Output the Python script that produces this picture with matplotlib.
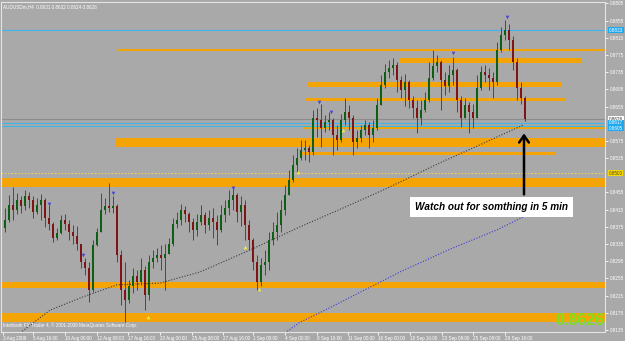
import matplotlib
matplotlib.use("Agg")
import matplotlib.pyplot as plt
import matplotlib.transforms as mtransforms
import numpy as np

# ---------------- data ----------------
first_open = 0.8373
closes = [0.8391, 0.8425, 0.8414, 0.8437, 0.8423, 0.8447, 0.8437, 0.8409, 0.8425, 0.8437,
          0.8395, 0.8381, 0.8349, 0.8361, 0.8391, 0.8381, 0.8363, 0.8354, 0.8335, 0.8293,
          0.8279, 0.8228, 0.8332, 0.8363, 0.8414, 0.8423, 0.8419, 0.8423, 0.8309, 0.8228,
          0.8205, 0.8237, 0.8261, 0.8247, 0.8275, 0.8216, 0.8293, 0.8303, 0.8309, 0.8303,
          0.8312, 0.8335, 0.8381, 0.8391, 0.8414, 0.8405, 0.8386, 0.8368, 0.8386,
          0.8402, 0.8379, 0.8395, 0.8386, 0.8368, 0.8402, 0.8419, 0.8437, 0.8449, 0.8409,
          0.8425, 0.8379, 0.8344, 0.8293, 0.8247, 0.8286, 0.8293, 0.8344, 0.8363, 0.8379,
          0.8414, 0.8449, 0.8484, 0.8519, 0.8535, 0.8554, 0.8558, 0.8549, 0.8628, 0.8624,
          0.8605, 0.8619, 0.8624, 0.8589, 0.8577, 0.8624, 0.8642, 0.8628, 0.8573, 0.8582,
          0.8600, 0.8612, 0.8589, 0.8605, 0.8659, 0.8705, 0.8736, 0.8745, 0.8752, 0.8717,
          0.8694, 0.8712, 0.8670, 0.8652, 0.8628, 0.8647, 0.8670, 0.8721, 0.8749, 0.8759,
          0.8717, 0.8703, 0.8729, 0.8740, 0.8670, 0.8628, 0.8659, 0.8642, 0.8628, 0.8698,
          0.8736, 0.8729, 0.8721, 0.8712, 0.8787, 0.8822, 0.8833, 0.8810, 0.8759, 0.8698,
          0.8675, 0.8626]
highs = [0.8419, 0.8449, 0.8468, 0.8454, 0.8447, 0.8461, 0.8456, 0.8447, 0.8442, 0.8451,
         0.8442, 0.8426, 0.8386, 0.8372, 0.8402, 0.8405, 0.8391, 0.8379, 0.8377, 0.8316,
         0.8303, 0.8293, 0.8344, 0.8372, 0.8454, 0.8442, 0.8477, 0.8447, 0.8428, 0.8321,
         0.8293, 0.8251, 0.8279, 0.8275, 0.8303, 0.8284, 0.8309, 0.8321, 0.8326, 0.8333,
         0.8335, 0.8349, 0.8395, 0.8409, 0.8428, 0.8423, 0.8409, 0.8395, 0.8405,
         0.8426, 0.8409, 0.8414, 0.8419, 0.8402, 0.8426, 0.8437, 0.8461, 0.8470, 0.8454,
         0.8447, 0.8437, 0.8391, 0.8349, 0.8309, 0.8303, 0.8321, 0.8363, 0.8386, 0.8409,
         0.8437, 0.8472, 0.8507, 0.8542, 0.8558, 0.8577, 0.8577, 0.8566, 0.8647, 0.8652,
         0.8661, 0.8635, 0.8642, 0.8628, 0.8612, 0.8638, 0.8675, 0.8659, 0.8635, 0.8600,
         0.8612, 0.8624, 0.8619, 0.8624, 0.8675, 0.8729, 0.8754, 0.8763, 0.8768, 0.8759,
         0.8726, 0.8731, 0.8717, 0.8680, 0.8670, 0.8670, 0.8689, 0.8759, 0.8787, 0.8775,
         0.8763, 0.8735, 0.8752, 0.8770, 0.8745, 0.8680, 0.8675, 0.8666, 0.8661, 0.8729,
         0.8749, 0.8752, 0.8745, 0.8735, 0.8805, 0.8840, 0.8856, 0.8847, 0.8819, 0.8768,
         0.8712, 0.8680]
lows = [0.8363, 0.8386, 0.8391, 0.8405, 0.8407, 0.8414, 0.8419, 0.8395, 0.8405, 0.8391,
        0.8374, 0.8368, 0.8340, 0.8344, 0.8358, 0.8368, 0.8344, 0.8335, 0.8321, 0.8279,
        0.8263, 0.8200, 0.8223, 0.8330, 0.8363, 0.8405, 0.8409, 0.8407, 0.8293, 0.8193,
        0.8154, 0.8198, 0.8221, 0.8228, 0.8240, 0.8182, 0.8205, 0.8279, 0.8293, 0.8275,
        0.8228, 0.8316, 0.8330, 0.8372, 0.8379, 0.8386, 0.8363, 0.8344, 0.8354,
        0.8379, 0.8361, 0.8368, 0.8349, 0.8333, 0.8363, 0.8386, 0.8402, 0.8414, 0.8386,
        0.8377, 0.8344, 0.8321, 0.8275, 0.8228, 0.8237, 0.8263, 0.8275, 0.8333, 0.8344,
        0.8363, 0.8402, 0.8449, 0.8479, 0.8503, 0.8531, 0.8531, 0.8526, 0.8542, 0.8584,
        0.8561, 0.8596, 0.8600, 0.8542, 0.8554, 0.8573, 0.8612, 0.8600, 0.8542, 0.8558,
        0.8573, 0.8589, 0.8558, 0.8573, 0.8600, 0.8659, 0.8698, 0.8721, 0.8729, 0.8689,
        0.8675, 0.8656, 0.8652, 0.8628, 0.8593, 0.8612, 0.8642, 0.8666, 0.8717, 0.8735,
        0.8647, 0.8682, 0.8689, 0.8705, 0.8642, 0.8607, 0.8628, 0.8593, 0.8605, 0.8628,
        0.8694, 0.8712, 0.8694, 0.8675, 0.8705, 0.8782, 0.8810, 0.8787, 0.8740, 0.8670,
        0.8661, 0.8621]

# moving averages: bar position, price
ma_slow_x = [3.75, 11.25, 19.5, 28, 38.75, 48.75, 61.25, 73.75, 86.25, 96.25, 108.75, 118.75, 129.5]
ma_slow_y = [0.8128, 0.8181, 0.8212, 0.8240, 0.8244, 0.8270, 0.8321, 0.8375, 0.8426, 0.8468, 0.8524, 0.8566, 0.8612]
ma_blue_x = [70, 73.75, 80, 98.75, 111.25, 123, 129.5]
ma_blue_y = [0.8128, 0.8153, 0.8181, 0.8270, 0.8323, 0.8368, 0.8398]

# support / resistance zones: low, high, start bar, end bar
zone_lo = [0.8784, 0.8756, 0.8700, 0.8668, 0.8561, 0.8542, 0.8468, 0.8233, 0.8153]
zone_hi = [0.8788, 0.8768, 0.8712, 0.8675, 0.8582, 0.8549, 0.8489, 0.8247, 0.8174]
zone_x0 = [28, 98.75, 75.75, 75, 27.5, 73.75, -1, -1, -1]
zone_x1 = [150, 144.25, 139, 140, 150, 137.5, 150, 150, 150]
olive_lo, olive_hi, olive_x0 = 0.8603, 0.8609, 74.75

blue_levels = [0.8833, 0.8616, 0.8610]
bid_price = 0.8626
yellow_level = 0.8500

# fractal marks
frac_up_x = [11, 19.5, 27, 57, 78.5, 81.5, 112, 125.5]
frac_up_y = [0.8428, 0.8309, 0.8454, 0.8465, 0.8666, 0.8642, 0.8780, 0.8863]
frac_dn_x = [35.75, 60, 63.5, 73.25, 84.5]
frac_dn_y = [0.8165, 0.8328, 0.8230, 0.8503, 0.8600]

price_ticks = [0.8895, 0.8855, 0.8815, 0.8775, 0.8735, 0.8695, 0.8655, 0.8575, 0.8535,
               0.8455, 0.8415, 0.8375, 0.8335, 0.8295, 0.8255, 0.8215, 0.8175, 0.8135]
time_pos = [-0.5, 7, 15, 23, 30.75, 38.75, 46.75, 54.5, 62, 70, 78, 85.75, 93.25, 101.25, 109.25, 117, 125]
time_labels = ["3 Aug 2009", "5 Aug 16:00", "10 Aug 00:00", "12 Aug 08:00", "17 Aug 16:00",
               "20 Aug 00:00", "25 Aug 08:00", "27 Aug 16:00", "1 Sep 00:00", "4 Sep 00:00",
               "8 Sep 16:00", "11 Sep 00:00", "16 Sep 00:00", "18 Sep 16:00", "23 Sep 08:00",
               "25 Sep 08:00", "29 Sep 16:00"]

# ---------------- figure ----------------
BG = "#A9A9A9"
ORANGE = "#F5A406"
SMALL = 3.3
FONT = "Liberation Sans"
W, H = 625, 341
fig = plt.figure(figsize=(W / 100, H / 100), dpi=100)
fig.patch.set_facecolor(BG)
ax = fig.add_axes([1 / W, 9 / H, 604 / W, 330 / H])
ax.set_facecolor(BG)
ax.set_xlim(-1, 150)
ax.set_ylim(0.81302, 0.88984)

# zones
for lo, hi, x0, x1 in zip(zone_lo, zone_hi, zone_x0, zone_x1):
    ax.fill_between([x0, x1], [lo, lo], [hi, hi], color=ORANGE, lw=0, zorder=1)
ax.fill_between([olive_x0, 150], [olive_lo] * 2, [olive_hi] * 2, color=ORANGE, lw=0, zorder=1)
ax.plot([olive_x0, 150], [olive_hi] * 2, color="#B4B428", lw=0.9, zorder=1)

for lv in blue_levels:
    ax.axhline(lv, color="#3DB6EA", lw=0.8, zorder=1)
ax.axhline(bid_price, color="#8C8C8C", lw=0.8, zorder=1)
ax.axhline(yellow_level, color="#E8D060", lw=0.8, ls=(0, (1.5, 1.5)), zorder=1)

# moving averages
ax.plot(ma_slow_x, ma_slow_y, color="#3C3C3C", lw=0.8, ls=(0, (1, 1.5)), zorder=2)
ax.plot(ma_blue_x, ma_blue_y, color="#3A3ADC", lw=0.8, ls=(0, (1, 1.5)), zorder=2)

# candles
closes_a = np.array(closes)
opens_a = np.concatenate([[first_open], closes_a[:-1]])
highs_a = np.maximum(np.array(highs), np.maximum(opens_a, closes_a))
lows_a = np.minimum(np.array(lows), np.minimum(opens_a, closes_a))
xs = np.arange(len(closes_a))
up = closes_a >= opens_a
ax.vlines(xs, lows_a, highs_a, color="#4A4A4A", lw=0.7, zorder=3)
body = np.maximum(np.abs(closes_a - opens_a), 0.00015)
bottoms = np.minimum(opens_a, closes_a)
ax.bar(xs[up], body[up], bottom=bottoms[up], width=0.62, color="#0E5E14", lw=0, zorder=4)
ax.bar(xs[~up], body[~up], bottom=bottoms[~up], width=0.62, color="#7E1414", lw=0, zorder=4)

# fractals
ax.scatter(frac_up_x, frac_up_y, marker="v", s=7, color="#4848D8", lw=0, zorder=5)
ax.scatter(frac_dn_x, frac_dn_y, marker="^", s=7, color="#F2E646", lw=0, zorder=5)

# axes styling
for s in ax.spines.values():
    s.set_color("#E4E4E4")
    s.set_linewidth(0.8)
ax.yaxis.tick_right()
ax.set_yticks(price_ticks)
ax.set_yticklabels([f"{p:.4f}" for p in price_ticks], family=FONT)
ax.set_xticks(time_pos)
ax.set_xticklabels(time_labels, ha="left", family=FONT)
ax.tick_params(axis="both", colors="white", labelsize=SMALL, length=2, width=0.6, pad=1.2)

# right-axis price boxes
tr = mtransforms.blended_transform_factory(ax.transAxes, ax.transData)
def box(price, fc, tc):
    ax.text(1.0065, price, f"{price:.4f}", transform=tr, fontsize=SMALL, family=FONT, color=tc,
            va="center", ha="left", bbox=dict(boxstyle="square,pad=0.12", fc=fc, ec="none"),
            clip_on=False)
box(blue_levels[0], "#1EA8F0", "white")
box(bid_price, "white", "#333333")
box(0.8617, "#1EA8F0", "white")
box(0.8605, "#1EA8F0", "white")
box(yellow_level, "#F5D800", "#444444")

# texts
ax.text(0.004, 0.993, "AUDUSDm,H4  0.8631 0.8632 0.8624 0.8626", transform=ax.transAxes,
        fontsize=SMALL, family=FONT, color="white", va="top", ha="left")
ax.text(0.004, 0.012, "Interbank FX Trader 4, \u00a9 2001-2009 MetaQuotes Software Corp.",
        transform=ax.transAxes, fontsize=SMALL, family=FONT, color="white", va="bottom", ha="left")
ax.text(0.999, 0.012, f"{bid_price:.4f}", transform=ax.transAxes, fontsize=11.5, color="#7EE020",
        fontweight="bold", family=FONT, va="bottom", ha="right", zorder=6)

# annotation box and arrow
ax.text(102.5, 0.8421, "Watch out for somthing in 5 min", fontsize=7.2, fontweight="bold",
        fontstyle="italic", family=FONT, color="black", va="center", ha="left",
        bbox=dict(boxstyle="square,pad=0.5", fc="white", ec="none"), zorder=7)
ax.annotate("", xy=(129.75, 0.8599), xytext=(129.75, 0.8444),
            arrowprops=dict(arrowstyle="->,head_length=0.5,head_width=0.35", color="black", lw=1.8),
            zorder=6)

fig.savefig("out.png", dpi=100, facecolor=BG)
